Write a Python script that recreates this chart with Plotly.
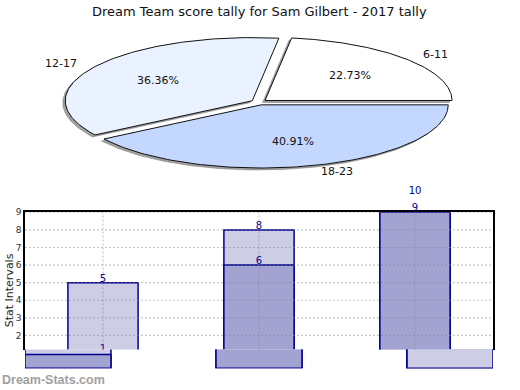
import numpy as np
import plotly.graph_objects as go

# ---------------- data ----------------
title_text = "Dream Team score tally for Sam Gilbert - 2017 tally"
pie_labels = ["6-11", "12-17", "18-23"]
pie_values = [5, 8, 9]

bar_x = [0, 1, 2]
light_values = [5, 8, 10]
dark_values = [1, 6, 9]
y_ticks = [2, 3, 4, 5, 6, 7, 8, 9]
y_title = "Stat Intervals"
watermark = "Dream-Stats.com"

# ---------------- style ----------------
W, H = 520, 390
FONT = "DejaVu Sans"
pie_colors = ["#FFFFFF", "#EAF1FF", "#C4D8FF"]
LIGHT = "#CDCDE5"
DARK = "#A3A3D1"
NAVY = "#000090"
CX, CY, A, B = 259.0, 98.5, 187.0, 64.0
EXPLODE = 8.0

# main bar plot area (pixels) and its value range
PL, PR, PT, PB = 25, 493, 210, 349
Y_RANGE = [1.2, 9.0]
SCALE = (PB - PT) / (Y_RANGE[1] - Y_RANGE[0])  # px per unit
LBL_TOP, LBL_BOT = 180, 368
LBL_SHIFT = 3.5  # px the value labels sit above the bar tops


def px(x):
    return x / W


def py(y):
    return 1 - y / H


fig = go.Figure()

# ---------------- pie (elliptical, exploded, shadowed) ----------------
total = float(sum(pie_values))
slices = []
start = 0.0
for lab, v, col in zip(pie_labels, pie_values, pie_colors):
    sweep = v / total * 2 * np.pi
    mid = start + sweep / 2
    ax_ = CX + EXPLODE * np.cos(mid)
    ay_ = CY - EXPLODE * np.sin(mid) * B / A
    th = np.linspace(start, start + sweep, 120)
    xs = np.concatenate([[ax_], ax_ + A * np.cos(th), [ax_]])
    ys = np.concatenate([[ay_], ay_ - B * np.sin(th), [ay_]])
    slices.append((lab, v, col, mid, ax_, ay_, xs, ys))
    start += sweep

for lab, v, col, mid, ax_, ay_, xs, ys in slices:
    fig.add_trace(go.Scatter(x=xs - 2.5, y=ys + 2.0, mode="lines", fill="toself",
                             fillcolor="rgba(120,120,120,0.7)",
                             line=dict(color="rgba(120,120,120,0.5)", width=1),
                             hoverinfo="skip", showlegend=False,
                             xaxis="x3", yaxis="y3"))
for lab, v, col, mid, ax_, ay_, xs, ys in slices:
    fig.add_trace(go.Scatter(x=xs, y=ys, mode="lines", fill="toself",
                             fillcolor=col, line=dict(color="#111111", width=1),
                             hoverinfo="skip", showlegend=False,
                             xaxis="x3", yaxis="y3"))

for lab, v, col, mid, ax_, ay_, xs, ys in slices:
    pct = "%.2f%%" % (v / total * 100)
    fig.add_annotation(x=ax_ + 0.6 * A * np.cos(mid), y=ay_ - 0.6 * B * np.sin(mid),
                       xref="x3", yref="y3", text=pct, showarrow=False,
                       font=dict(family=FONT, size=11, color="#111111"))
    c = np.cos(mid)
    fig.add_annotation(x=ax_ + 1.1 * A * c, y=ay_ - 1.1 * B * np.sin(mid),
                       xref="x3", yref="y3", text=lab, showarrow=False,
                       xanchor="left" if c > 0 else "right", yanchor="middle",
                       font=dict(family=FONT, size=11, color="#111111"))

# ---------------- bars (main) ----------------
fig.add_trace(go.Bar(x=bar_x, y=light_values, width=0.45, marker=dict(color=LIGHT, line=dict(color=NAVY, width=1.5)),
                     showlegend=False, hoverinfo="skip", xaxis="x", yaxis="y"))
fig.add_trace(go.Bar(x=bar_x, y=dark_values, width=0.45, marker=dict(color=DARK, line=dict(color=NAVY, width=1.5)),
                     showlegend=False, hoverinfo="skip", xaxis="x", yaxis="y"))

# value labels on a taller axis with the same scale (so labels outside the plot still show)
lbl_range = [Y_RANGE[0] - (LBL_BOT - PB + LBL_SHIFT) / SCALE,
             Y_RANGE[1] + (PT - LBL_TOP - LBL_SHIFT) / SCALE]
for vals in (light_values, dark_values):
    fig.add_trace(go.Scatter(x=bar_x, y=vals, mode="text", text=[str(v) for v in vals],
                             textposition="middle center",
                             textfont=dict(family=FONT, size=10, color=NAVY),
                             showlegend=False, hoverinfo="skip", xaxis="x", yaxis="y4"))

# ---------------- bars (bottom strip) ----------------
fig.add_trace(go.Bar(x=bar_x, y=light_values, width=0.45, marker=dict(color=LIGHT, line=dict(color=NAVY, width=1.5)),
                     showlegend=False, hoverinfo="skip", xaxis="x2", yaxis="y2"))
fig.add_trace(go.Bar(x=bar_x, y=dark_values, width=0.45, marker=dict(color=DARK, line=dict(color=NAVY, width=1.5)),
                     showlegend=False, hoverinfo="skip", xaxis="x2", yaxis="y2"))
fig.add_trace(go.Bar(x=bar_x[2:], y=light_values[2:], width=0.45, marker=dict(color=LIGHT, line=dict(color=NAVY, width=1.5)),
                     showlegend=False, hoverinfo="skip", xaxis="x2", yaxis="y2"))

# ---------------- grid (dotted, above bars) ----------------
GRID = dict(color="rgba(130,130,130,0.45)", width=1.2, dash="2px,2px")
for t in y_ticks:
    fig.add_shape(type="line", xref="x domain", yref="y", x0=0, x1=1, y0=t, y1=t,
                  line=GRID, layer="above")
for xv in bar_x:
    fig.add_shape(type="line", xref="x", yref="y domain", x0=xv, x1=xv, y0=0, y1=1,
                  line=GRID, layer="above")

# ---------------- text ----------------
fig.add_annotation(x=px(259.5), y=py(7), xref="paper", yref="paper", text=title_text,
                   showarrow=False, xanchor="center", yanchor="middle",
                   font=dict(family=FONT, size=13, color="#111111"))
fig.add_annotation(x=px(9), y=py(289), xref="paper", yref="paper", text=y_title,
                   showarrow=False, textangle=-90, xanchor="center", yanchor="middle",
                   font=dict(family=FONT, size=11, color="#222222"))
fig.add_annotation(x=0, y=py(380), xref="paper", yref="paper", text="<b>" + watermark + "</b>",
                   showarrow=False, xanchor="left", yanchor="middle",
                   font=dict(family="Liberation Sans", size=12.5, color="#A0A0A0"))

fig.update_layout(
    width=W, height=H, margin=dict(l=0, r=0, t=0, b=0),
    paper_bgcolor="white", plot_bgcolor="rgba(0,0,0,0)",
    barmode="overlay", showlegend=False,
    xaxis=dict(domain=[px(PL), px(PR)], range=[-0.5, 2.5], side="top", showline=True,
               linecolor="black", linewidth=1.5, showticklabels=False, showgrid=False,
               zeroline=False, ticks="", anchor="y", fixedrange=True),
    yaxis=dict(domain=[py(PB), py(PT)], range=Y_RANGE, tickvals=y_ticks, showline=True,
               mirror=True, linecolor="black", linewidth=1.5, showgrid=False, zeroline=False,
               ticks="", tickfont=dict(family=FONT, size=9, color="#333333"), anchor="x",
               fixedrange=True),
    xaxis2=dict(domain=[px(PL), px(PR)], range=[-0.225, 2.225], visible=False, anchor="y2",
                fixedrange=True),
    yaxis2=dict(domain=[py(368), py(349)], range=[0, 1.36], visible=False, anchor="x2",
                fixedrange=True),
    xaxis3=dict(domain=[0, 1], range=[0, W], visible=False, anchor="y3", fixedrange=True),
    yaxis3=dict(domain=[0, 1], range=[H, 0], visible=False, anchor="x3", fixedrange=True),
    yaxis4=dict(domain=[py(LBL_BOT), py(LBL_TOP)], range=lbl_range, visible=False,
                anchor="x", fixedrange=True),
)

fig.write_html("out.html", config={"displayModeBar": False},
               post_script="document.body.style.margin='0';document.body.style.overflow='hidden';")
